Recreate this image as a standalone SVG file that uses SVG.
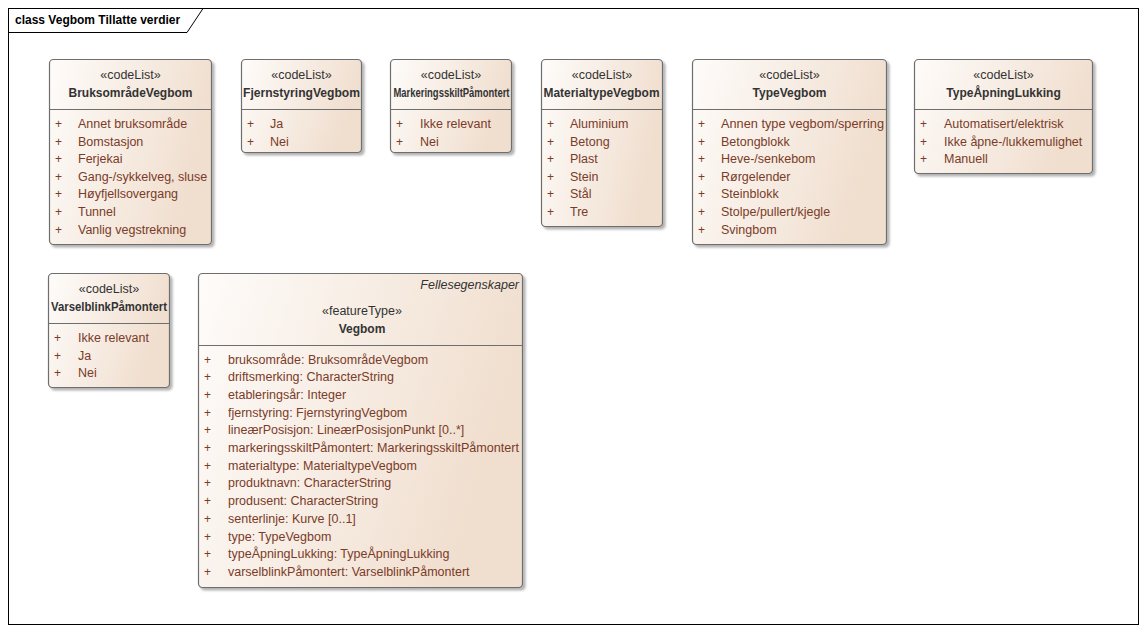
<svg xmlns="http://www.w3.org/2000/svg" width="1146" height="632" viewBox="0 0 1146 632">
<style>
text{font-family:"Liberation Sans",Arial,sans-serif;font-size:12px}
.st{fill:#333;text-anchor:middle;font-size:12.5px}
.nm{fill:#333;font-weight:bold;text-anchor:middle}
.it text{fill:#7a3b28;font-size:12.5px}
.pl text{fill:#7a3b28}
.box{fill:url(#g);stroke:#6e6e6e;stroke-width:1.2}
.div{stroke:#6e6e6e;stroke-width:1}
.ttl{fill:#000;font-weight:bold}
.it2{fill:#333;font-style:italic;text-anchor:end;font-size:12.5px}
</style>
<defs>
<linearGradient id="g" x1="0" y1="0" x2="1" y2="0.3">
<stop offset="0" stop-color="#fefcfa"/>
<stop offset="1" stop-color="#f0dece"/>
</linearGradient>
<filter id="sh" x="-10%" y="-10%" width="130%" height="130%">
<feDropShadow dx="2.5" dy="2.5" stdDeviation="1.2" flood-color="#000" flood-opacity="0.3"/>
</filter>
</defs>
<rect width="1146" height="632" fill="#fff"/>
<g id="frame">
<rect x="8.5" y="8.5" width="1130" height="616" fill="none" stroke="#000" stroke-width="1"/>
<path d="M8.5 32.5 H187 L203 8.5" fill="none" stroke="#000" stroke-width="1"/>
<text class="ttl" x="15" y="24">class Vegbom Tillatte verdier</text>
</g>
<g id="BruksomradeVegbom">
<rect class="box" x="49.5" y="59.5" width="162" height="185" rx="4" filter="url(#sh)"/>
<line class="div" x1="49.5" y1="109.5" x2="211.5" y2="109.5"/>
<text class="st" x="130.5" y="79">«codeList»</text>
<text class="nm" x="130.5" y="97">BruksområdeVegbom</text>
<g class="pl"><text x="55" y="128">+</text><text x="55" y="145.6">+</text><text x="55" y="163.2">+</text><text x="55" y="180.8">+</text><text x="55" y="198.4">+</text><text x="55" y="216">+</text><text x="55" y="233.6">+</text></g>
<g class="it"><text x="78" y="128">Annet bruksområde</text><text x="78" y="145.6">Bomstasjon</text><text x="78" y="163.2">Ferjekai</text><text x="78" y="180.8">Gang-/sykkelveg, sluse</text><text x="78" y="198.4">Høyfjellsovergang</text><text x="78" y="216">Tunnel</text><text x="78" y="233.6">Vanlig vegstrekning</text></g>
</g>
<g id="FjernstyringVegbom">
<rect class="box" x="241.5" y="59.5" width="120" height="93" rx="4" filter="url(#sh)"/>
<line class="div" x1="241.5" y1="109.5" x2="361.5" y2="109.5"/>
<text class="st" x="301.5" y="79">«codeList»</text>
<text class="nm" x="301.5" y="97" textLength="117" lengthAdjust="spacingAndGlyphs">FjernstyringVegbom</text>
<g class="pl"><text x="247" y="128">+</text><text x="247" y="145.6">+</text></g>
<g class="it"><text x="270" y="128">Ja</text><text x="270" y="145.6">Nei</text></g>
</g>
<g id="MarkeringsskiltPamontert">
<rect class="box" x="390.5" y="59.5" width="121" height="93" rx="4" filter="url(#sh)"/>
<line class="div" x1="390.5" y1="109.5" x2="511.5" y2="109.5"/>
<text class="st" x="451" y="79">«codeList»</text>
<text class="nm" x="451.5" y="97" textLength="116" lengthAdjust="spacingAndGlyphs">MarkeringsskiltPåmontert</text>
<g class="pl"><text x="396" y="128">+</text><text x="396" y="145.6">+</text></g>
<g class="it"><text x="420" y="128">Ikke relevant</text><text x="420" y="145.6">Nei</text></g>
</g>
<g id="MaterialtypeVegbom">
<rect class="box" x="541.5" y="59.5" width="121" height="167" rx="4" filter="url(#sh)"/>
<line class="div" x1="541.5" y1="109.5" x2="662.5" y2="109.5"/>
<text class="st" x="602" y="79">«codeList»</text>
<text class="nm" x="601.5" y="97" textLength="116" lengthAdjust="spacingAndGlyphs">MaterialtypeVegbom</text>
<g class="pl"><text x="547" y="128">+</text><text x="547" y="145.6">+</text><text x="547" y="163.2">+</text><text x="547" y="180.8">+</text><text x="547" y="198.4">+</text><text x="547" y="216">+</text></g>
<g class="it"><text x="570" y="128">Aluminium</text><text x="570" y="145.6">Betong</text><text x="570" y="163.2">Plast</text><text x="570" y="180.8">Stein</text><text x="570" y="198.4">Stål</text><text x="570" y="216">Tre</text></g>
</g>
<g id="TypeVegbom">
<rect class="box" x="692.5" y="59.5" width="194" height="185" rx="4" filter="url(#sh)"/>
<line class="div" x1="692.5" y1="109.5" x2="886.5" y2="109.5"/>
<text class="st" x="789.5" y="79">«codeList»</text>
<text class="nm" x="789.5" y="97">TypeVegbom</text>
<g class="pl"><text x="698" y="128">+</text><text x="698" y="145.6">+</text><text x="698" y="163.2">+</text><text x="698" y="180.8">+</text><text x="698" y="198.4">+</text><text x="698" y="216">+</text><text x="698" y="233.6">+</text></g>
<g class="it"><text x="721" y="128" textLength="163" lengthAdjust="spacingAndGlyphs">Annen type vegbom/sperring</text><text x="721" y="145.6">Betongblokk</text><text x="721" y="163.2">Heve-/senkebom</text><text x="721" y="180.8">Rørgelender</text><text x="721" y="198.4">Steinblokk</text><text x="721" y="216">Stolpe/pullert/kjegle</text><text x="721" y="233.6">Svingbom</text></g>
</g>
<g id="TypeApningLukking">
<rect class="box" x="914.5" y="59.5" width="178" height="114" rx="4" filter="url(#sh)"/>
<line class="div" x1="914.5" y1="109.5" x2="1092.5" y2="109.5"/>
<text class="st" x="1003.5" y="79">«codeList»</text>
<text class="nm" x="1003.5" y="97">TypeÅpningLukking</text>
<g class="pl"><text x="920" y="128">+</text><text x="920" y="145.6">+</text><text x="920" y="163.2">+</text></g>
<g class="it"><text x="944" y="128">Automatisert/elektrisk</text><text x="944" y="145.6">Ikke åpne-/lukkemulighet</text><text x="944" y="163.2">Manuell</text></g>
</g>
<g id="VarselblinkPamontert">
<rect class="box" x="48.5" y="273.5" width="121" height="114" rx="4" filter="url(#sh)"/>
<line class="div" x1="48.5" y1="323.5" x2="169.5" y2="323.5"/>
<text class="st" x="109" y="293">«codeList»</text>
<text class="nm" x="109" y="311" textLength="116" lengthAdjust="spacingAndGlyphs">VarselblinkPåmontert</text>
<g class="pl"><text x="54" y="342">+</text><text x="54" y="359.6">+</text><text x="54" y="377.2">+</text></g>
<g class="it"><text x="78" y="342">Ikke relevant</text><text x="78" y="359.6">Ja</text><text x="78" y="377.2">Nei</text></g>
</g>
<g id="Vegbom">
<rect class="box" x="198.5" y="273.5" width="324" height="314" rx="4" filter="url(#sh)"/>
<line class="div" x1="198.5" y1="345.5" x2="522.5" y2="345.5"/>
<text class="it2" x="519" y="289">Fellesegenskaper</text>
<text class="st" x="362" y="315">«featureType»</text>
<text class="nm" x="362" y="333">Vegbom</text>
<g class="pl"><text x="204" y="363.5">+</text><text x="204" y="381.2">+</text><text x="204" y="398.9">+</text><text x="204" y="416.6">+</text><text x="204" y="434.3">+</text><text x="204" y="452">+</text><text x="204" y="469.7">+</text><text x="204" y="487.4">+</text><text x="204" y="505.1">+</text><text x="204" y="522.8">+</text><text x="204" y="540.5">+</text><text x="204" y="558.2">+</text><text x="204" y="575.9">+</text></g>
<g class="it"><text x="228" y="363.5">bruksområde: BruksområdeVegbom</text><text x="228" y="381.2">driftsmerking: CharacterString</text><text x="228" y="398.9">etableringsår: Integer</text><text x="228" y="416.6">fjernstyring: FjernstyringVegbom</text><text x="228" y="434.3">lineærPosisjon: LineærPosisjonPunkt [0..*]</text><text x="228" y="452" textLength="291" lengthAdjust="spacingAndGlyphs">markeringsskiltPåmontert: MarkeringsskiltPåmontert</text><text x="228" y="469.7">materialtype: MaterialtypeVegbom</text><text x="228" y="487.4">produktnavn: CharacterString</text><text x="228" y="505.1">produsent: CharacterString</text><text x="228" y="522.8">senterlinje: Kurve [0..1]</text><text x="228" y="540.5">type: TypeVegbom</text><text x="228" y="558.2">typeÅpningLukking: TypeÅpningLukking</text><text x="228" y="575.9">varselblinkPåmontert: VarselblinkPåmontert</text></g>
</g>
<g id="connectors"/>
</svg>
